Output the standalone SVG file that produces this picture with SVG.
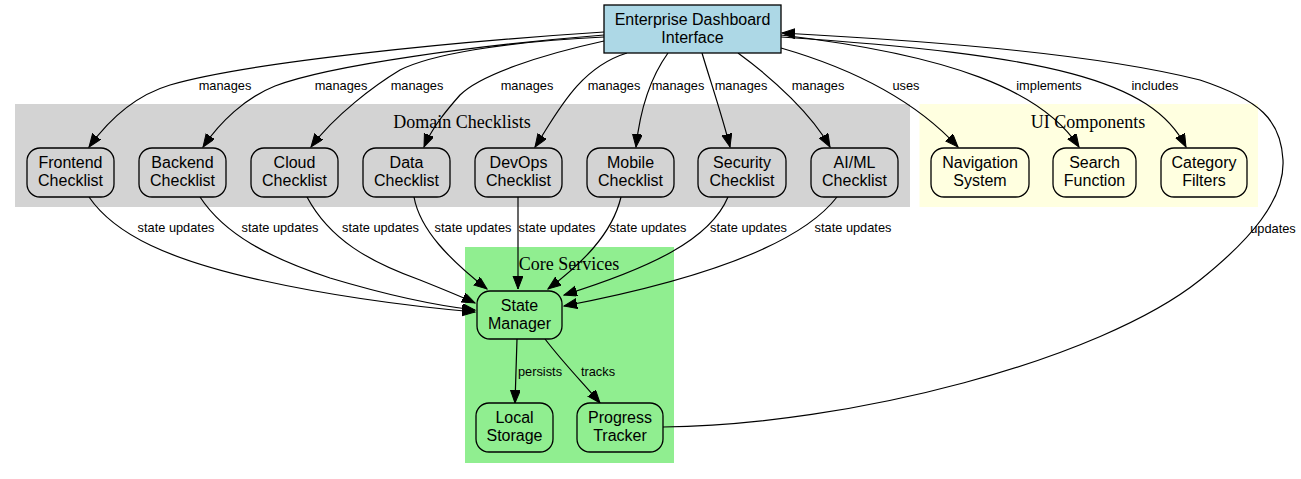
<svg xmlns="http://www.w3.org/2000/svg" width="1301" height="479" viewBox="0 0 1301 479">
<style>
.node rect{stroke:#000;stroke-width:1.3}
.node text{font-family:"Liberation Sans",Arial,sans-serif;font-size:16px;text-anchor:middle;fill:#000}
.cl text{font-family:"Liberation Serif","Times New Roman",serif;font-size:18px;text-anchor:middle;fill:#000}
.dom rect{fill:#d3d3d3}
.ui rect{fill:#ffffe0}
.core rect{fill:#90ee90}
#edges path{fill:none;stroke:#000;stroke-width:1.2;marker-end:url(#ah)}
#edges text{font-family:"Liberation Sans",Arial,sans-serif;font-size:12.8px;text-anchor:middle;fill:#000}
</style>
<defs>
<marker id="ah" markerUnits="userSpaceOnUse" markerWidth="14" markerHeight="11" refX="13" refY="5" orient="auto" viewBox="0 0 14 11">
<path d="M0,0 L13,5 L0,10 z" fill="#000" stroke="#000" stroke-width="1"/>
</marker>
</defs>
<rect width="1301" height="479" fill="#fff"/>
<g id="clusters" class="cl">
<g id="cluster_domain"><rect x="15" y="104" width="895" height="103" fill="#d3d3d3"/><text x="462" y="128">Domain Checklists</text></g>
<g id="cluster_ui"><rect x="919.5" y="104" width="338.5" height="103" fill="#ffffe0"/><text x="1088" y="128">UI Components</text></g>
<g id="cluster_core"><rect x="465" y="247" width="209" height="216" fill="#90ee90"/><text x="569" y="270">Core Services</text></g>
</g>
<g id="edges">
<path d="M604,32 C450,42 250,62 170,85 C130,97 105,125 89,147"/>
<text x="225" y="90">manages</text>
<path d="M604,35 C480,45 330,65 275,86 C245,98 220,122 203,147"/>
<text x="341" y="90">manages</text>
<path d="M604,37 C500,42 430,55 400,70 C375,85 335,115 311,147"/>
<text x="417" y="90">manages</text>
<path d="M604,41 C540,55 480,75 460,95 C445,112 432,128 424,147"/>
<text x="527" y="90">manages</text>
<path d="M627,53 C578,68 556,115 535,147"/>
<text x="614" y="90">manages</text>
<path d="M668,53 C650,78 640,110 636,147"/>
<text x="678" y="90">manages</text>
<path d="M702,53 C710,80 722,115 730,147"/>
<text x="741" y="90">manages</text>
<path d="M738,53 C775,80 812,115 830,147"/>
<text x="818" y="90">manages</text>
<path d="M781,48 C840,65 910,95 958,147"/>
<text x="906" y="90">uses</text>
<path d="M781,35 C950,55 1042,90 1079,147"/>
<text x="1049" y="90">implements</text>
<path d="M781,37 C1050,55 1152,80 1186,147"/>
<text x="1155" y="90">includes</text>
<path d="M89,197 C115,235 170,260 260,280 C350,300 430,308 475,312"/>
<text x="176" y="232">state updates</text>
<path d="M200,197 C225,235 270,258 330,278 C390,296 440,306 475,310"/>
<text x="280" y="232">state updates</text>
<path d="M307,197 C330,240 370,262 420,280 C445,290 462,297 475,303"/>
<text x="380.5" y="232">state updates</text>
<path d="M414,197 C420,230 450,260 487,289"/>
<text x="473" y="232">state updates</text>
<path d="M518,197 L518,289"/>
<text x="557" y="232">state updates</text>
<path d="M621,197 C612,235 580,265 548,289"/>
<text x="648" y="232">state updates</text>
<path d="M728,197 C710,240 650,268 564,295"/>
<text x="748.5" y="232">state updates</text>
<path d="M837,197 C800,245 700,280 564,306"/>
<text x="853" y="232">state updates</text>
<path d="M517,339 L515,403"/>
<text x="540" y="376">persists</text>
<path d="M545,339 C565,365 585,385 600,403"/>
<text x="598" y="376">tracks</text>
<path d="M663,427 C850,425 1100,360 1200,280 C1250,240 1285,200 1283,160 C1281,120 1260,100 1200,80 C1100,55 950,42 782,33"/>
<text x="1273" y="233">updates</text>
</g>
<g id="root" class="node"><rect x="604" y="5" width="177" height="48" fill="#add8e6" stroke-width="1.5"/><text x="692.5" y="25">Enterprise Dashboard</text><text x="692.5" y="43">Interface</text></g>
<g id="frontend" class="node dom"><rect x="27" y="148" width="87" height="49" rx="13"/><text x="70.5" y="168">Frontend</text><text x="70.5" y="186">Checklist</text></g>
<g id="backend" class="node dom"><rect x="139" y="148" width="87" height="49" rx="13"/><text x="182.5" y="168">Backend</text><text x="182.5" y="186">Checklist</text></g>
<g id="cloud" class="node dom"><rect x="251" y="148" width="87" height="49" rx="13"/><text x="294.5" y="168">Cloud</text><text x="294.5" y="186">Checklist</text></g>
<g id="data" class="node dom"><rect x="363" y="148" width="87" height="49" rx="13"/><text x="406.5" y="168">Data</text><text x="406.5" y="186">Checklist</text></g>
<g id="devops" class="node dom"><rect x="475" y="148" width="87" height="49" rx="13"/><text x="518.5" y="168">DevOps</text><text x="518.5" y="186">Checklist</text></g>
<g id="mobile" class="node dom"><rect x="587" y="148" width="87" height="49" rx="13"/><text x="630.5" y="168">Mobile</text><text x="630.5" y="186">Checklist</text></g>
<g id="security" class="node dom"><rect x="698" y="148" width="88" height="49" rx="13"/><text x="742" y="168">Security</text><text x="742" y="186">Checklist</text></g>
<g id="aiml" class="node dom"><rect x="811" y="148" width="87" height="49" rx="13"/><text x="854.5" y="168">AI/ML</text><text x="854.5" y="186">Checklist</text></g>
<g id="navigation" class="node ui"><rect x="931" y="148" width="98" height="49" rx="13"/><text x="980" y="168">Navigation</text><text x="980" y="186">System</text></g>
<g id="search" class="node ui"><rect x="1053" y="148" width="83" height="49" rx="13"/><text x="1094.5" y="168">Search</text><text x="1094.5" y="186">Function</text></g>
<g id="category" class="node ui"><rect x="1161" y="148" width="86" height="49" rx="13"/><text x="1204" y="168">Category</text><text x="1204" y="186">Filters</text></g>
<g id="statemanager" class="node core"><rect x="477" y="291" width="85" height="48" rx="13"/><text x="519.5" y="310.5">State</text><text x="519.5" y="328.5">Manager</text></g>
<g id="localstorage" class="node core"><rect x="476" y="403" width="77" height="49" rx="13"/><text x="514.5" y="423">Local</text><text x="514.5" y="441">Storage</text></g>
<g id="progress" class="node core"><rect x="577" y="403" width="86" height="49" rx="13"/><text x="620" y="423">Progress</text><text x="620" y="441">Tracker</text></g>
</svg>
